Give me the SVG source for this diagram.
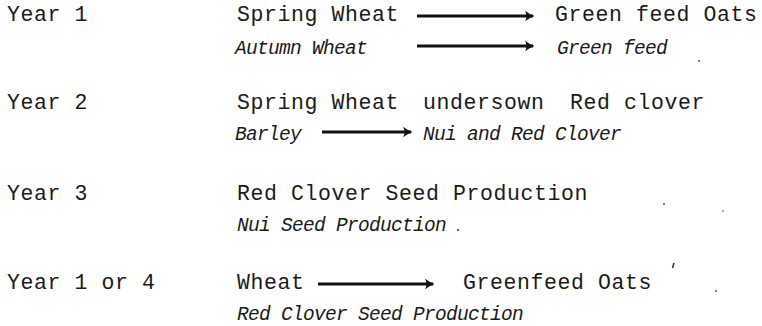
<svg xmlns="http://www.w3.org/2000/svg" width="762" height="326" viewBox="0 0 762 326">
<defs>
<style>
.u{font-family:"Liberation Mono","DejaVu Sans Mono",monospace;font-size:21.5px;letter-spacing:0.6px;fill:#1a1a1a}
.i{font-family:"Liberation Mono","DejaVu Sans Mono",monospace;font-size:19.5px;letter-spacing:-0.7px;font-style:italic;fill:#1a1a1a}
.a{stroke:#111;stroke-width:2.8;fill:none;marker-end:url(#ah)}
.s{fill:#444}
</style>
<marker id="ah" viewBox="0 0 12 12" refX="10" refY="6" markerWidth="12" markerHeight="12" markerUnits="userSpaceOnUse" orient="auto">
<path d="M2,0.8 Q6,4 11.5,6 Q6,8 2,11.2 Q5,6 2,0.8 Z" fill="#111"/>
</marker>
</defs>
<rect width="762" height="326" fill="#fff"/>
<g id="year1">
<text class="u" x="7" y="21">Year 1</text>
<text class="u" x="237" y="21">Spring Wheat</text>
<text class="u" x="555" y="21">Green feed Oats</text>
<text class="i" x="235" y="54">Autumn Wheat</text>
<text class="i" x="557" y="54">Green feed</text>
</g>
<g id="year2">
<text class="u" x="7" y="109">Year 2</text>
<text class="u" x="237" y="109">Spring Wheat</text>
<text class="u" x="423" y="109">undersown</text>
<text class="u" x="570" y="109">Red clover</text>
<text class="i" x="235" y="140">Barley</text>
<text class="i" x="423" y="140">Nui and Red Clover</text>
</g>
<g id="year3">
<text class="u" x="7" y="200">Year 3</text>
<text class="u" x="237" y="200">Red Clover Seed Production</text>
<text class="i" x="237" y="231">Nui Seed Production</text>
<circle class="s" cx="458" cy="230" r="1.1"/>
</g>
<g id="year4">
<text class="u" x="7" y="289">Year 1 or 4</text>
<text class="u" x="237" y="289">Wheat</text>
<text class="u" x="463" y="289">Greenfeed Oats</text>
<text class="i" x="237" y="320">Red Clover Seed Production</text>
</g>
<g id="connectors">
<line class="a" x1="417" y1="16" x2="533" y2="16"/>
<line class="a" x1="417" y1="46" x2="533" y2="46"/>
<line class="a" x1="322" y1="132" x2="411" y2="132"/>
<line class="a" x1="318" y1="284" x2="433" y2="284"/>
</g>
<g id="specks">
<path d="M674,263 l-1.5,5" stroke="#333" stroke-width="1.6"/>
<circle class="s" cx="716" cy="291" r="0.9"/>
<circle class="s" cx="664" cy="204" r="0.9"/>
<circle class="s" cx="723" cy="211" r="0.8"/>
<circle class="s" cx="699" cy="61" r="0.9"/>
</g>
</svg>
